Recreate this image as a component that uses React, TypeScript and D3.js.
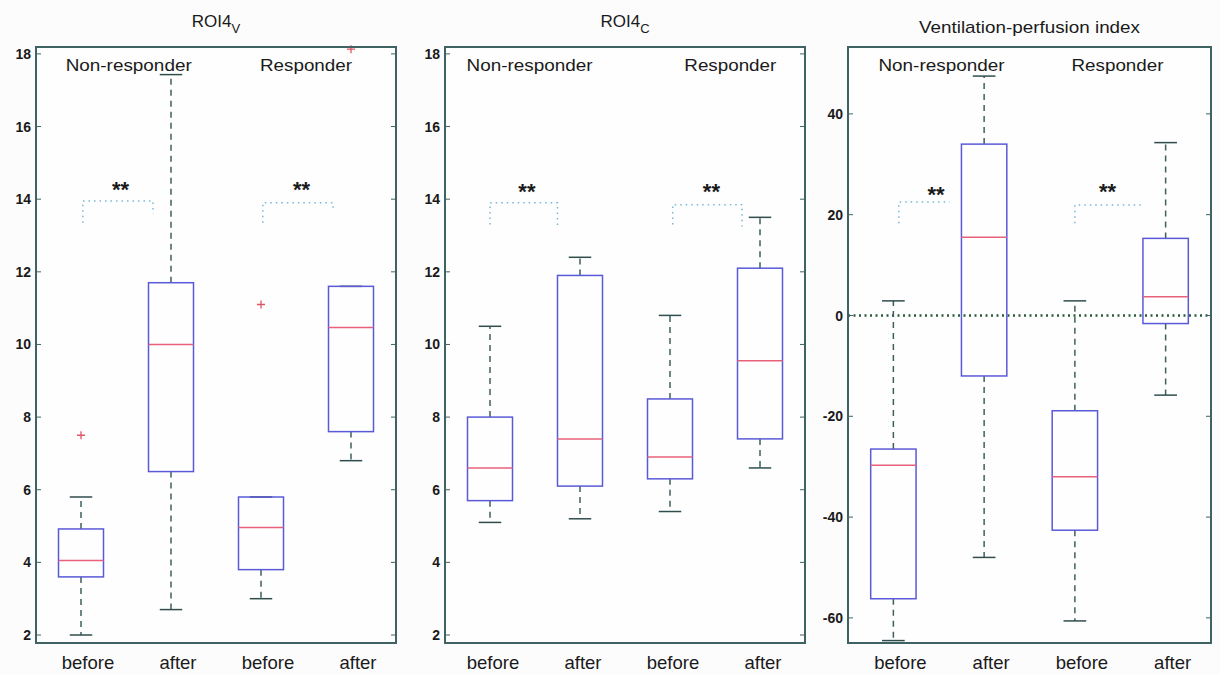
import React from "react";
import * as d3 from "d3";

// ---------- data ----------
const categories = ["before", "after", "before", "after"];
const positions = [1, 2, 3, 4];
const groupNames = ["Non-responder", "Responder"];

// ROI4_V
const roi4vLow = [2.0, 2.7, 3.0, 6.8];
const roi4vQ1 = [3.6, 6.5, 3.8, 7.6];
const roi4vMed = [4.05, 10.0, 4.96, 10.47];
const roi4vQ3 = [4.92, 11.7, 5.8, 11.6];
const roi4vHigh = [5.8, 17.43, 5.8, 11.6];
const roi4vOut = [[7.5], [], [11.1], [18.13]];

// ROI4_C
const roi4cLow = [5.1, 5.2, 5.4, 6.6];
const roi4cQ1 = [5.7, 6.1, 6.3, 7.4];
const roi4cMed = [6.6, 7.4, 6.9, 9.55];
const roi4cQ3 = [8.0, 11.9, 8.5, 12.1];
const roi4cHigh = [10.5, 12.4, 10.8, 13.5];
const roi4cOut: number[][] = [[], [], [], []];

// Ventilation-perfusion index
const vpiLow = [-64.5, -48.0, -60.6, -15.8];
const vpiQ1 = [-56.2, -12.0, -42.6, -1.6];
const vpiMed = [-29.7, 15.5, -32.0, 3.7];
const vpiQ3 = [-26.5, 34.0, -18.9, 15.3];
const vpiHigh = [2.9, 47.5, 2.9, 34.3];
const vpiOut: number[][] = [[], [], [], []];

// y tick labels
const roiTicks = [2, 4, 6, 8, 10, 12, 14, 16, 18];
const vpiTicks = [-60, -40, -20, 0, 20, 40];

// significance brackets: [xLeft, xRight, yTop, yLeftBottom, yRightBottom]
const roi4vBrackets = [
  [1.02, 1.8, 13.95, 13.35, 13.6],
  [3.02, 3.8, 13.9, 13.35, 13.7],
];
const roi4cBrackets = [
  [1.0, 1.75, 13.9, 13.3, 13.2],
  [3.03, 3.8, 13.85, 13.3, 13.25],
];
const vpiBrackets = [
  [1.06, 1.62, 22.5, 18.3, 22.5],
  [3.0, 3.75, 21.9, 18.3, 21.9],
];
// star markers: [x, y]
const roi4vStars = [[1.44, 14.4], [3.45, 14.4]];
const roi4cStars = [[1.41, 14.33], [3.46, 14.33]];
const vpiStars = [[1.47, 24.8], [3.36, 25.4]];

// group label positions
const roi4vGroupX = [1.53, 3.5];
const roi4cGroupX = [1.44, 3.67];
const vpiGroupX = [1.53, 3.47];

// ---------- layout / style ----------
const W = 1220;
const H = 674;
const TOP = 47;
const BOTTOM = 643;
const FONT = "'Liberation Sans', Arial, Helvetica, sans-serif";
const C = {
  bg: "#fcfcfd",
  frame: "#3f6363",
  box: "#5a5ad8",
  median: "#e8607a",
  whisker: "#3f5f5f",
  cap: "#2f4d4d",
  outlier: "#e05565",
  bracket: "#7ab6d6",
  zero: "#2d5a3c",
  text: "#1a1a1a",
};

type PanelDef = {
  title: string;
  sub?: string;
  titleY: number;
  titleLen?: number;
  low: number[];
  q1: number[];
  med: number[];
  q3: number[];
  high: number[];
  out: number[][];
  ticks: number[];
  domain: [number, number];
  x0: number;
  x1: number;
  groupX: number[];
  brackets: number[][];
  stars: number[][];
  zero: boolean;
  labelDx: number;
};

const panels: PanelDef[] = [
  {
    title: "ROI4", sub: "V", titleY: 27,
    low: roi4vLow, q1: roi4vQ1, med: roi4vMed, q3: roi4vQ3, high: roi4vHigh, out: roi4vOut,
    ticks: roiTicks, domain: [1.78, 18.19], x0: 36, x1: 396, groupX: roi4vGroupX,
    brackets: roi4vBrackets, stars: roi4vStars, zero: false, labelDx: 7,
  },
  {
    title: "ROI4", sub: "C", titleY: 27,
    low: roi4cLow, q1: roi4cQ1, med: roi4cMed, q3: roi4cQ3, high: roi4cHigh, out: roi4cOut,
    ticks: roiTicks, domain: [1.78, 18.19], x0: 445, x1: 805, groupX: roi4cGroupX,
    brackets: roi4cBrackets, stars: roi4cStars, zero: false, labelDx: 3,
  },
  {
    title: "Ventilation-perfusion index", titleY: 33, titleLen: 221,
    low: vpiLow, q1: vpiQ1, med: vpiMed, q3: vpiQ3, high: vpiHigh, out: vpiOut,
    ticks: vpiTicks, domain: [-64.98, 53.27], x0: 848, x1: 1211, groupX: vpiGroupX,
    brackets: vpiBrackets, stars: vpiStars, zero: true, labelDx: 7,
  },
];

function Panel({ p }: { p: PanelDef }) {
  const x = d3.scaleLinear().domain([0.5, 4.5]).range([p.x0, p.x1]);
  const y = d3.scaleLinear().domain(p.domain).range([BOTTOM, TOP]);
  const cx = (p.x0 + p.x1) / 2;
  const halfBox = 0.25;
  const halfCap = 0.125;
  return (
    <g>
      <rect x={p.x0} y={TOP} width={p.x1 - p.x0} height={BOTTOM - TOP} fill="#fefefe" />
      {/* title */}
      <text x={cx} y={p.titleY} textAnchor="middle" fontSize={17} fill={C.text} fontFamily={FONT}
        {...(p.titleLen ? { textLength: p.titleLen, lengthAdjust: "spacingAndGlyphs" } : {})}>
        {p.title}
        {p.sub ? <tspan dy={6} fontSize={13}>{p.sub}</tspan> : null}
      </text>
      {/* zero line */}
      {p.zero ? (
        <line x1={p.x0} x2={p.x1} y1={y(0)} y2={y(0)} stroke={C.zero} strokeWidth={2.6} strokeDasharray="2,3.5" />
      ) : null}
      {/* brackets */}
      {p.brackets.map((b, i) => (
        <path key={"br" + i}
          d={`M${x(b[0])},${y(b[3])}V${y(b[2])}H${x(b[1])}V${y(b[4])}`}
          fill="none" stroke={C.bracket} strokeWidth={1.5} strokeDasharray="1.5,4" />
      ))}
      {/* stars */}
      {p.stars.map((s, i) => (
        <text key={"st" + i} x={x(s[0])} y={y(s[1]) + 12} textAnchor="middle" fontSize={22}
          fontWeight="bold" fill={C.text} fontFamily={FONT}>**</text>
      ))}
      {/* boxes */}
      {positions.map((pos, i) => (
        <g key={"bx" + i}>
          <line x1={x(pos)} x2={x(pos)} y1={y(p.q3[i])} y2={y(p.high[i])} stroke={C.whisker}
            strokeWidth={1.5} strokeDasharray="6,5" />
          <line x1={x(pos)} x2={x(pos)} y1={y(p.q1[i])} y2={y(p.low[i])} stroke={C.whisker}
            strokeWidth={1.5} strokeDasharray="6,5" />
          <line x1={x(pos - halfCap)} x2={x(pos + halfCap)} y1={y(p.high[i])} y2={y(p.high[i])}
            stroke={C.cap} strokeWidth={1.5} />
          <line x1={x(pos - halfCap)} x2={x(pos + halfCap)} y1={y(p.low[i])} y2={y(p.low[i])}
            stroke={C.cap} strokeWidth={1.5} />
          <rect x={x(pos - halfBox)} y={y(p.q3[i])} width={x(pos + halfBox) - x(pos - halfBox)}
            height={y(p.q1[i]) - y(p.q3[i])} fill="none" stroke={C.box} strokeWidth={1.5} />
          <line x1={x(pos - halfBox)} x2={x(pos + halfBox)} y1={y(p.med[i])} y2={y(p.med[i])}
            stroke={C.median} strokeWidth={1.5} />
          {p.out[i].map((o, j) => (
            <path key={j} d={`M${x(pos) - 4},${y(o)}H${x(pos) + 4}M${x(pos)},${y(o) - 4}V${y(o) + 4}`}
              stroke={C.outlier} strokeWidth={1.3} />
          ))}
        </g>
      ))}
      {/* frame */}
      <rect x={p.x0} y={TOP} width={p.x1 - p.x0} height={BOTTOM - TOP} fill="none" stroke={C.frame} strokeWidth={2} />
      {/* y ticks */}
      {p.ticks.map((t) => (
        <g key={"t" + t}>
          <line x1={p.x0} x2={p.x0 + 5} y1={y(t)} y2={y(t)} stroke={C.frame} strokeWidth={1} />
          <line x1={p.x1 - 5} x2={p.x1} y1={y(t)} y2={y(t)} stroke={C.frame} strokeWidth={1} />
          <text x={p.x0 - 5} y={y(t)} dy="0.36em" textAnchor="end" fontSize={14} fontWeight="bold"
            fill={C.text} fontFamily={FONT}>{t}</text>
        </g>
      ))}
      {/* group labels */}
      {groupNames.map((g, i) => (
        <text key={g} x={x(p.groupX[i])} y={TOP + 24} textAnchor="middle" fontSize={16}
          fill={C.text} fontFamily={FONT}
          textLength={i === 0 ? 126 : 92} lengthAdjust="spacingAndGlyphs">{g}</text>
      ))}
      {/* x labels */}
      {categories.map((c, i) => (
        <text key={"c" + i} x={x(positions[i]) + p.labelDx} y={669} textAnchor="middle" fontSize={18.5}
          fill={C.text} fontFamily={FONT}>{c}</text>
      ))}
    </g>
  );
}

export default function App() {
  return (
    <svg width={W} height={H} viewBox={`0 0 ${W} ${H}`}
      style={{ position: "absolute", left: 0, top: 0, display: "block" }}>
      <rect x={0} y={0} width={W} height={H} fill={C.bg} />
      {panels.map((p, i) => (
        <Panel key={i} p={p} />
      ))}
    </svg>
  );
}
